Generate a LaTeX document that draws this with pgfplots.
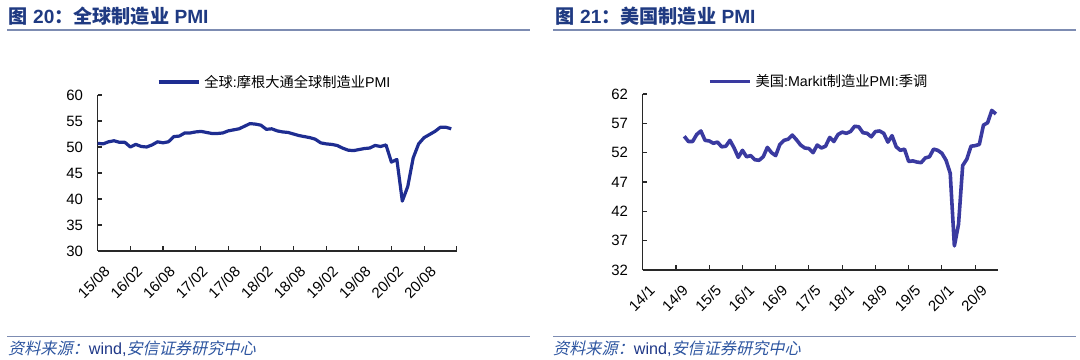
\documentclass[border=0pt]{standalone}
\usepackage{fontspec}
\setmainfont{Liberation Sans}
\newfontfamily\cjk{Noto Sans CJK SC}
\newfontfamily\cjksl{Noto Sans CJK SC}[FakeSlant=0.22]
\usepackage{pgfplots}
\pgfplotsset{compat=1.18}
\definecolor{titleblue}{RGB}{31,58,130}
\definecolor{rulecol}{RGB}{125,140,178}
\definecolor{footblue}{RGB}{45,85,160}
\definecolor{windblue}{RGB}{30,55,135}
\definecolor{lineA}{RGB}{30,45,145}
\definecolor{lineB}{RGB}{58,58,160}
\definecolor{axcol}{RGB}{40,40,40}
\pgfplotsset{myax/.style={
  scale only axis, axis lines=left,
  axis line style={axcol, line width=1.1bp, -},
  tick style={axcol, line width=1.1bp},
  major tick length=4.5bp, tick align=inside,
  /pgf/number format/assume math mode=true,
  ticklabel style={font=\fontsize{15}{17}\selectfont, text=black},
  yticklabel style={anchor=east, inner sep=0pt, xshift=-14.5bp},
  xticklabel style={anchor=east, inner sep=0pt, xshift=9.3bp, yshift=-18bp, rotate=45},
  legend style={draw=none, fill=none, inner sep=0pt, outer sep=0pt,
    nodes={inner sep=0pt, font=\fontsize{14.3}{16}\selectfont}, column sep=4bp},
  legend image code/.code={\draw[#1, line width=3.5bp] (0bp,0bp) -- (40bp,0bp);},
  clip=false,
}}
\begin{document}
\begin{tikzpicture}
\path[use as bounding box] (0bp,0bp) rectangle (1080bp,360bp);
% titles
\node[anchor=west, inner sep=0pt, text=titleblue, font=\fontsize{19.2}{21}\selectfont\bfseries] at (8.5bp,344bp) {{\cjk\bfseries 图} 20{\cjk\bfseries ：全球制造业} PMI};
\node[anchor=west, inner sep=0pt, text=titleblue, font=\fontsize{19.2}{21}\selectfont\bfseries] at (555.5bp,344bp) {{\cjk\bfseries 图} 21{\cjk\bfseries ：美国制造业} PMI};
\draw[rulecol, line width=1.6bp] (7bp,330bp) -- (530bp,330bp);
\draw[rulecol, line width=1.6bp] (553bp,330bp) -- (1076bp,330bp);
% footers
\draw[rulecol, line width=1.6bp] (7bp,23.3bp) -- (530bp,23.3bp);
\draw[rulecol, line width=1.6bp] (553bp,23.3bp) -- (1076bp,23.3bp);
\node[anchor=west, inner sep=0pt, font=\fontsize{16.2}{18}\selectfont] at (8bp,11bp) {\textcolor{footblue}{\cjksl 资料来源：}\textcolor{windblue}{wind,}\textcolor{footblue}{\cjksl 安信证券研究中心}};
\node[anchor=west, inner sep=0pt, font=\fontsize{16.2}{18}\selectfont] at (553bp,11bp) {\textcolor{footblue}{\cjksl 资料来源：}\textcolor{windblue}{wind,}\textcolor{footblue}{\cjksl 安信证券研究中心}};

% left chart
\begin{axis}[myax, at={(97.7bp,109bp)}, anchor=south west, width=359bp, height=156bp,
  xmin=0, xmax=66, ymin=30, ymax=60, ytick={30,35,...,60},
  xtick={0,6,...,66},
  xticklabels={15/08,16/02,16/08,17/02,17/08,18/02,18/08,19/02,19/08,20/02,20/08,{}},
  legend style={at={(0.165,1.083)}, anchor=west}]
\addplot[lineA, line width=3.2bp, line join=round, no marks] table {
0 50.7
1 50.6
2 51.0
3 51.2
4 50.9
5 50.9
6 50.0
7 50.5
8 50.1
9 50.0
10 50.4
11 51.0
12 50.8
13 51.0
14 52.0
15 52.1
16 52.7
17 52.7
18 52.9
19 53.0
20 52.8
21 52.6
22 52.6
23 52.7
24 53.1
25 53.3
26 53.5
27 54.0
28 54.5
29 54.4
30 54.2
31 53.4
32 53.5
33 53.1
34 52.9
35 52.8
36 52.5
37 52.2
38 52.0
39 51.8
40 51.5
41 50.8
42 50.6
43 50.5
44 50.3
45 49.8
46 49.4
47 49.3
48 49.5
49 49.7
50 49.8
51 50.3
52 50.1
53 50.4
54 47.1
55 47.6
56 39.6
57 42.4
58 47.9
59 50.6
60 51.8
61 52.4
62 53.0
63 53.8
64 53.8
65 53.5
};
\addlegendentry{{\cjk 全球}:{\cjk 摩根大通全球制造业}PMI}
\end{axis}

% right chart
\begin{axis}[myax, at={(642.7bp,90bp)}, anchor=south west, width=355.3bp, height=176bp,
  xmin=0, xmax=85.5, ymin=32, ymax=62, ytick={32,37,...,62},
  xtick={0,8,...,80},
  xticklabels={14/1,14/9,15/5,16/1,16/9,17/5,18/1,18/9,19/5,20/1,20/9},
  legend style={at={(0.184,1.072)}, anchor=west}]
\addplot[lineB, line width=3.6bp, line join=round, no marks] table {
10 54.8
11 53.9
12 53.9
13 55.1
14 55.7
15 54.1
16 54.0
17 53.6
18 53.8
19 53.0
20 53.1
21 54.1
22 52.8
23 51.2
24 52.4
25 51.3
26 51.5
27 50.8
28 50.7
29 51.3
30 52.9
31 52.0
32 51.5
33 53.4
34 54.1
35 54.3
36 55.0
37 54.2
38 53.3
39 52.8
40 52.7
41 52.0
42 53.3
43 52.8
44 53.1
45 54.6
46 53.9
47 55.1
48 55.5
49 55.3
50 55.6
51 56.5
52 56.4
53 55.4
54 55.3
55 54.7
56 55.6
57 55.7
58 55.3
59 53.8
60 54.9
61 53.0
62 52.4
63 52.6
64 50.5
65 50.6
66 50.4
67 50.3
68 51.1
69 51.3
70 52.6
71 52.4
72 51.9
73 50.7
74 48.5
75 36.1
76 39.8
77 49.8
78 50.9
79 53.1
80 53.2
81 53.4
82 56.7
83 57.1
84 59.2
85 58.6
};
\addlegendentry{{\cjk 美国}:Markit{\cjk 制造业}PMI:{\cjk 季调}}
\end{axis}
\end{tikzpicture}
\end{document}
